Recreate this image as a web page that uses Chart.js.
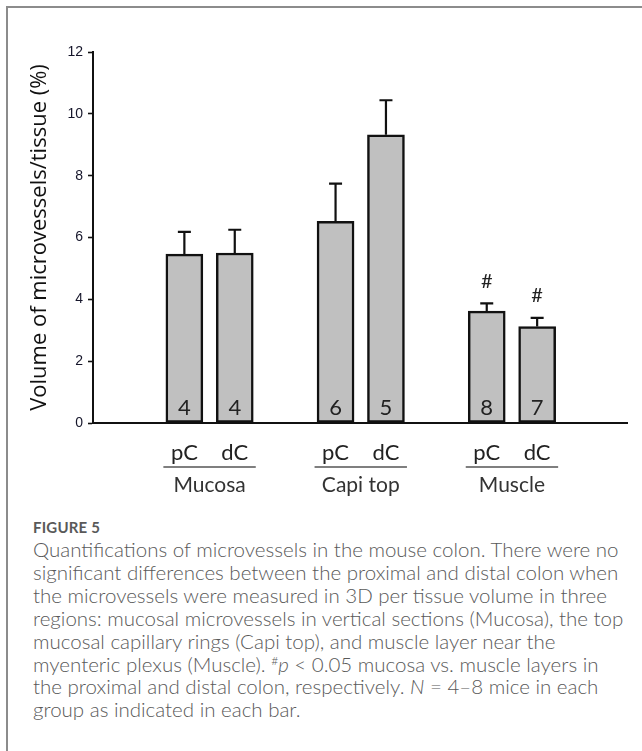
<!DOCTYPE html>
<html>
<head>
<meta charset="utf-8">
<script src="https://cdn.jsdelivr.net/npm/chart.js@4.4.1/dist/chart.umd.min.js"></script>
<style>
  html, body { margin: 0; padding: 0; background: #fff; }
  body { width: 642px; height: 751px; position: relative; overflow: hidden; }
  .frame { position: absolute; left: 6px; top: 6px; width: 640px; height: 750px;
           border-top: 2px solid #8c8c8c; border-left: 2px solid #8c8c8c; }
  #chartBox { position: absolute; left: 0; top: 0; width: 642px; height: 500px; }
  .caption { position: absolute; left: 33px; top: 518px; width: 608px; color: #595959;
             font-family: Lato, "Open Sans", sans-serif; }
  .caption .label { font-size: 15px; font-weight: 700; letter-spacing: 0.2px; margin-bottom: 2px; }
  .caption .text { font-size: 20.5px; font-weight: 300; line-height: 22.9px; white-space: nowrap; }
  .caption sup { font-size: 12px; vertical-align: 7px; line-height: 0; }
</style>
</head>
<body>
<div class="frame"></div>
<div id="chartBox"><canvas id="volChart"></canvas></div>
<div class="caption">
  <div class="label">FIGURE 5</div>
  <div class="text">Quantifications of microvessels in the mouse colon. There were no<br>
significant differences between the proximal and distal colon when<br>
the microvessels were measured in 3D per tissue volume in three<br>
regions: mucosal microvessels in vertical sections (Mucosa), the top<br>
mucosal capillary rings (Capi top), and muscle layer near the<br>
myenteric plexus (Muscle). <sup>#</sup><i>p</i> &lt; 0.05 mucosa vs. muscle layers in<br>
the proximal and distal colon, respectively. <i>N</i> = 4&ndash;8 mice in each<br>
group as indicated in each bar.</div>
</div>
<script>
// --- data ---
const groups = ["Mucosa", "Capi top", "Muscle"];
const colonParts = ["pC", "dC"];
const meanVolume = [5.46, 5.50, 6.52, 9.32, 3.62, 3.12];   // bar heights (%)
const errorTop   = [6.18, 6.25, 7.74, 10.44, 3.87, 3.40];  // mean + SEM
const miceN      = [4, 4, 6, 5, 8, 7];
const vsMucosa   = [false, false, false, false, true, true]; // # marks
const yTicks     = [0, 2, 4, 6, 8, 10, 12];

// two bars per group, one empty slot between groups
const points = meanVolume.map((v, i) => ({
    x: Math.floor(i / 2) * 3 + (i % 2),
    y: v
}));

const labelFont = "Lato, 'Open Sans', sans-serif";

const barExtras = {
    id: "barExtras",
    afterDatasetsDraw(chart) {
        const { ctx, scales: { x, y } } = chart;
        const bars = chart.getDatasetMeta(0).data;
        const zero = y.getPixelForValue(0);
        ctx.save();

        bars.forEach((bar, i) => {
            const top = y.getPixelForValue(errorTop[i]);
            // error bar (upper half only)
            ctx.strokeStyle = "#111";
            ctx.lineWidth = 2.2;
            ctx.beginPath();
            ctx.moveTo(bar.x, bar.y);
            ctx.lineTo(bar.x, top);
            ctx.moveTo(bar.x - 6.5, top);
            ctx.lineTo(bar.x + 6.5, top);
            ctx.stroke();

            // sample size in the bar
            ctx.fillStyle = "#222";
            ctx.font = "22px " + labelFont;
            ctx.textAlign = "center";
            ctx.textBaseline = "middle";
            ctx.fillText(String(miceN[i]), bar.x, zero - 15);

            if (vsMucosa[i]) {
                ctx.font = "20px " + labelFont;
                ctx.fillText("#", bar.x, top - 22);
            }
        });

        // group underline + name
        groups.forEach((g, gi) => {
            const left = x.getPixelForValue(gi * 3) - 21;
            const right = x.getPixelForValue(gi * 3 + 1) + 21;
            ctx.strokeStyle = "#555";
            ctx.lineWidth = 1.5;
            ctx.beginPath();
            ctx.moveTo(left, zero + 44);
            ctx.lineTo(right, zero + 44);
            ctx.stroke();
            ctx.fillStyle = "#333";
            ctx.font = "21px " + labelFont;
            ctx.fillText(g, (left + right) / 2, zero + 62);
        });
        ctx.restore();
    }
};

new Chart(document.getElementById("volChart"), {
    type: "bar",
    data: {
        datasets: [{
            data: points,
            backgroundColor: "#c0c0c0",
            borderColor: "#111",
            borderWidth: 2.5,
            borderSkipped: false,
            barThickness: 37
        }]
    },
    options: {
        responsive: true,
        maintainAspectRatio: false,
        animation: false,
        layout: { padding: { left: 27, top: 52, right: 15, bottom: 0 } },
        plugins: { legend: { display: false }, tooltip: { enabled: false } },
        scales: {
            x: {
                type: "linear",
                min: -0.93,
                max: 7.9,
                afterBuildTicks: (scale) => {
                    scale.ticks = points.map(p => ({ value: p.x }));
                },
                afterFit: (scale) => { scale.height = 77; },
                grid: { display: false },
                border: { display: true, color: "#111", width: 2 },
                ticks: {
                    autoSkip: false,
                    maxRotation: 0,
                    padding: 9,
                    color: "#222",
                    font: { family: labelFont, size: 22 },
                    callback: (v) => colonParts[v % 3]
                }
            },
            y: {
                min: 0,
                max: 12,
                afterBuildTicks: (scale) => {
                    scale.ticks = yTicks.map(v => ({ value: v }));
                },
                afterFit: (scale) => { scale.width = 66; },
                grid: {
                    display: true,
                    drawOnChartArea: false,
                    drawTicks: true,
                    tickLength: 5,
                    tickWidth: 1.6,
                    tickColor: "#111"
                },
                border: { display: true, color: "#111", width: 2 },
                ticks: {
                    padding: 5,
                    color: "#15152a",
                    font: { family: "'Liberation Sans', Arial, sans-serif", size: 14 }
                },
                title: {
                    display: true,
                    text: "Volume of microvessels/tissue (%)",
                    color: "#111",
                    padding: { top: 0, bottom: 0 },
                    font: { family: "'Open Sans', sans-serif", size: 22 }
                }
            }
        }
    },
    plugins: [barExtras]
});
</script>
</body>
</html>
